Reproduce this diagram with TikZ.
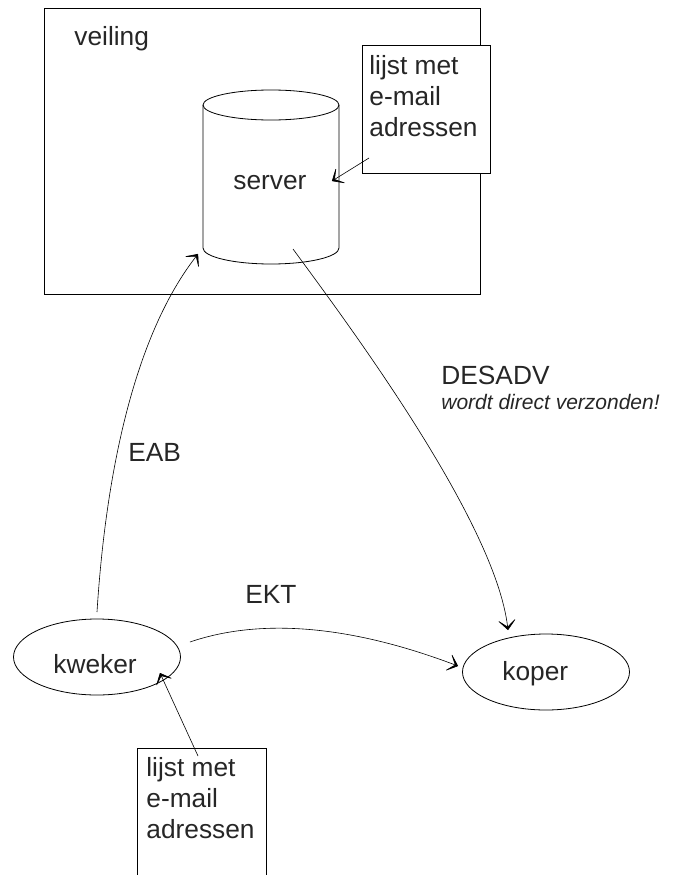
\documentclass[tikz,border=0pt]{standalone}
\usepackage{fontspec}
\setmainfont{Liberation Sans}
\usetikzlibrary{arrows.meta}
\usetikzlibrary{positioning}
\usetikzlibrary{shapes.geometric}
\tikzset{lbl/.style = {inner sep=0pt, font=\fontsize{26.3}{30.7}\selectfont, align=left, anchor=base west, text=black!85},
         flow/.style = {-{Stealth[length=12pt, width=21pt, inset=8.5pt, round]}, line width=0.6pt},
         party/.style = {draw, ellipse, inner sep=0pt, minimum width=167pt, minimum height=76pt},
         listbox/.style = {draw, fill=white, minimum width=128pt, minimum height=128pt}}
\begin{document}
\begin{tikzpicture}[x=1pt, y=-1pt, line width=0.8pt]
      \useasboundingbox (0, 0) rectangle (680, 875);
      \draw (44, 8) rectangle (480, 294);
      \node [lbl] (veiling) at (74, 46) {veiling};
      % server cylinder
      \draw (203, 105) arc [x radius=68, y radius=15, start angle=180, end angle=540];
      \draw (203, 105) -- (203, 248) arc [x radius=68, y radius=16, start angle=180, end angle=0] -- (339, 105);
      \node [lbl] (server) at (233, 189) {server};
      \coordinate (serverin) at (198, 254);
      \coordinate (serverout) at (293, 249);
      \coordinate (serverlist) at (332, 181);
      \node [listbox] (lijsttop) at (426, 109) {};
      \node [lbl] (lijsttoptext) at (369, 136) {lijst met\\e-mail\\adressen};
      \coordinate (lijsttopout) at (369, 158);
      \draw [flow] (lijsttopout) -- (serverlist);
      \node [party] (kweker) at (97, 657) {};
      \node [lbl] (kwekertext) at (53, 673) {kweker};
      \node [party] (koper) at (546, 672) {};
      \node [lbl] (kopertext) at (502, 680) {koper};
      \coordinate (kwekerup) at (97, 612);
      \coordinate (kwekerright) at (190, 642);
      \coordinate (kwekerlow) at (160, 673);
      \coordinate (koperleft) at (458, 666);
      \coordinate (kopertop) at (508, 630);
      \draw [flow] (kwekerup) .. controls (106, 470) and (135, 335) .. (serverin);
      \draw [flow] (serverout) .. controls (345, 320) and (495, 520) .. (kopertop);
      \draw [flow] (kwekerright) .. controls (260, 618) and (350, 625) .. (koperleft);
      \draw (137, 875) -- (137, 748) -- (266, 748) -- (266, 875);
      \coordinate (lijstlow) at (198, 756);
      \draw [flow] (lijstlow) -- (kwekerlow);
      \node [lbl] (lijstlowtext) at (146, 838) {lijst met\\e-mail\\adressen};
      \node [lbl] (eab) at (128, 461) {EAB};
      \node [lbl] (ekt) at (245, 603) {EKT};
      \node [lbl] (desadv) at (441, 384) {DESADV};
      \node [lbl, font=\fontsize{21}{25}\itshape\selectfont] (direct) at (441, 409) {wordt direct verzonden!};
    \end{tikzpicture}
\end{document}
